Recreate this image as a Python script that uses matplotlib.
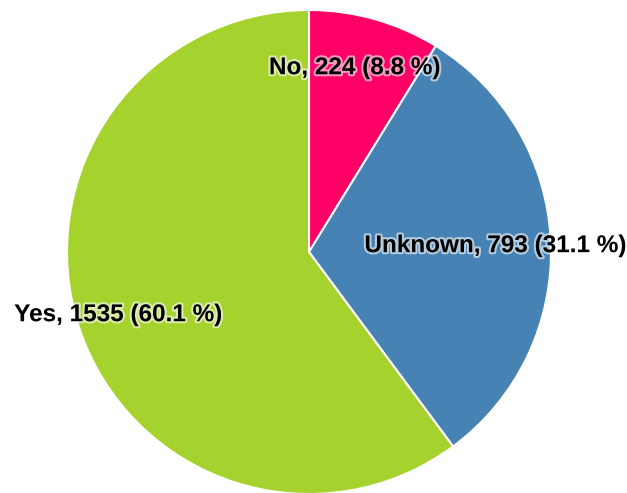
import matplotlib.pyplot as plt
import matplotlib.patheffects as pe
from matplotlib.transforms import offset_copy

# ------------------- DATA ------------------- #
categories = ["No", "Unknown", "Yes"]
counts = [224, 793, 1535]
colors = ["#FF0066", "#4682B4", "#A6D22E"]

total = sum(counts)
labels = [f"{c}, {n} ({n / total * 100:.1f} %)" for c, n in zip(categories, counts)]

# ------------------- PLOTTING ------------------- #
fig = plt.figure(figsize=(6.27, 4.93), dpi=100)
ax = fig.add_axes([67 / 627, -1 / 493, 484 / 627, 484 / 493])

wedges, texts = ax.pie(
    counts,
    colors=colors,
    startangle=90,
    counterclock=False,
    labels=labels,
    labeldistance=0.8,
    wedgeprops=dict(edgecolor="white", linewidth=1.5),
    textprops=dict(fontsize=17.5, fontweight="bold", family="Liberation Sans",
                   color="black"),
)
for t in texts:
    t.set_horizontalalignment("center")
    t.set_verticalalignment("center")
    t.set_transform(offset_copy(t.get_transform(), fig, x=-7, y=-2, units="dots"))
    t.set_path_effects([pe.withStroke(linewidth=3, foreground="white", alpha=0.6)])

ax.set_xlim(-1, 1)
ax.set_ylim(-1, 1)
ax.set_aspect("equal")
ax.axis("off")

fig.savefig("out.png", dpi=100)
